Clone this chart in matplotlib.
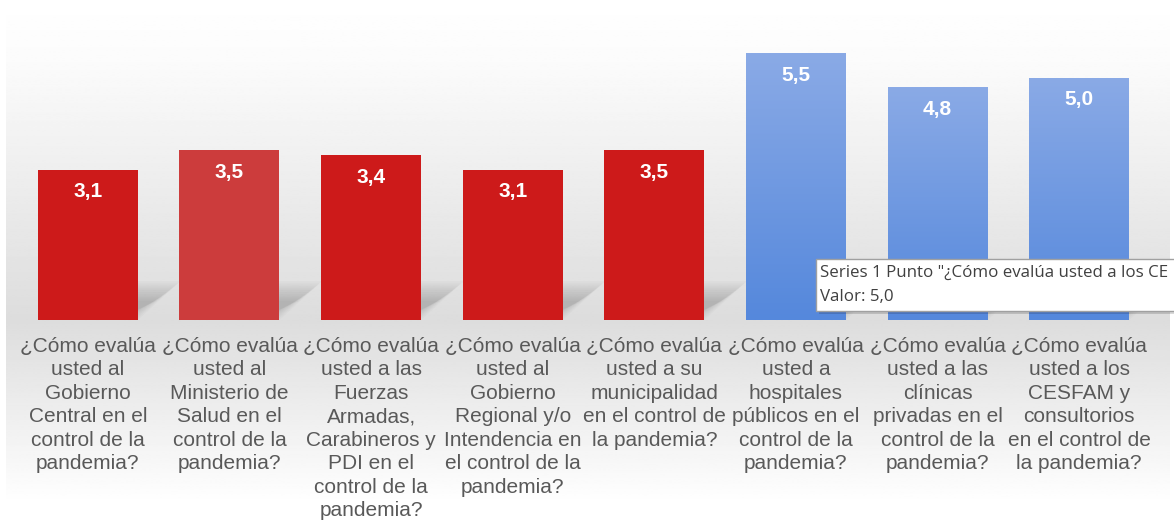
import numpy as np
import matplotlib.pyplot as plt
from matplotlib.colors import LinearSegmentedColormap
from matplotlib.patches import Polygon, Rectangle

plt.rcParams['font.family'] = ['Liberation Sans', 'DejaVu Sans']

# datos
preguntas = [
    "¿Cómo evalúa\nusted al\nGobierno\nCentral en el\ncontrol de la\npandemia?",
    "¿Cómo evalúa\nusted al\nMinisterio de\nSalud en el\ncontrol de la\npandemia?",
    "¿Cómo evalúa\nusted a las\nFuerzas\nArmadas,\nCarabineros y\nPDI en el\ncontrol de la\npandemia?",
    "¿Cómo evalúa\nusted al\nGobierno\nRegional y/o\nIntendencia en\nel control de la\npandemia?",
    "¿Cómo evalúa\nusted a su\nmunicipalidad\nen el control de\nla pandemia?",
    "¿Cómo evalúa\nusted a\nhospitales\npúblicos en el\ncontrol de la\npandemia?",
    "¿Cómo evalúa\nusted a las\nclínicas\nprivadas en el\ncontrol de la\npandemia?",
    "¿Cómo evalúa\nusted a los\nCESFAM y\nconsultorios\nen el control de\nla pandemia?",
]
valores = [3.1, 3.5, 3.4, 3.1, 3.5, 5.5, 4.8, 5.0]
etiquetas = ["3,1", "3,5", "3,4", "3,1", "3,5", "5,5", "4,8", "5,0"]
colores = ["#cd1a1a", "#cc3c3c", "#cd1a1a", "#cd1a1a", "#cd1a1a", "blue", "blue", "blue"]
tooltip = ['Series 1 Punto "¿Cómo evalúa usted a los CE', "Valor: 5,0"]

W, H = 1174, 529
fig = plt.figure(figsize=(W / 100, H / 100), dpi=100)

# fondo con degradado
bg = fig.add_axes([0, 0, 1, 1])
bg.set_xlim(0, W)
bg.set_ylim(H, 0)
bg.axis("off")
col = np.interp(np.linspace(8, 505, 300), [8, 60, 320, 505], [0.998, 0.985, 0.865, 1.0])
grad = np.tile(col[:, None], (1, 2))
bg.imshow(grad, cmap="gray", vmin=0, vmax=1, extent=[6, 1170, 505, 8],
          aspect="auto", interpolation="bilinear")

left, right, base, top = 17, 1150, 320, 29
ax = fig.add_axes([left / W, 1 - base / H, (right - left) / W, (base - top) / H])
ax.set_xlim(-0.5, 7.5)
ax.set_ylim(0, 6)
ax.axis("off")
ax.patch.set_alpha(0)

x = np.arange(len(valores))
ancho = 0.706

# sombras de las barras
for xi, v in zip(x, valores):
    for k in range(10):
        d = 0.018 * k
        sh = Polygon([[xi - ancho / 2 + d, 0], [xi + ancho / 2 - d, 0],
                      [xi + ancho / 2 + 0.3 - d, 0.8 - d * 2.5],
                      [xi - ancho / 2 + 0.3 + d, 0.8 - d * 2.5]],
                     closed=True, color="#505050", alpha=0.03, lw=0, zorder=1)
        ax.add_patch(sh)

barras = ax.bar(x, valores, width=ancho, color=[c if c != "blue" else "#7aa0e3" for c in colores],
                zorder=2, linewidth=0)

cmap_azul = LinearSegmentedColormap.from_list("azul", ["#5588dc", "#8aaae6"])
for b, c in zip(barras, colores):
    if c == "blue":
        x0, w, h = b.get_x(), b.get_width(), b.get_height()
        im = ax.imshow(np.linspace(0, 1, 100)[:, None], cmap=cmap_azul, origin="lower",
                       extent=[x0, x0 + w, 0, h], aspect="auto", zorder=3)
        im.set_clip_path(b)

for xi, v, t in zip(x, valores, etiquetas):
    ax.annotate(t, (xi, v), xytext=(0, -16), textcoords="offset points", ha="center",
                va="center", color="white", fontsize=15, fontweight="bold", zorder=4)

# etiquetas de categorias
for xi, p in zip(x, preguntas):
    ax.annotate(p, (xi, 0), xytext=(0, -12), textcoords="offset points", ha="center",
                va="top", color="#595959", fontsize=15, linespacing=1.3,
                annotation_clip=False)

# cuadro emergente
ov = fig.add_axes([0, 0, 1, 1])
ov.set_xlim(0, W)
ov.set_ylim(H, 0)
ov.axis("off")
ov.patch.set_alpha(0)
ov.add_patch(Rectangle((819, 262), 400, 52, facecolor="#00000026", edgecolor="none"))
ov.add_patch(Rectangle((815.5, 258.5), 400, 52, facecolor="white", edgecolor="#a0a0a0", lw=1))
for i, linea in enumerate(tooltip):
    ov.text(820, 273 + i * 24, linea, fontsize=12.2, color="#404040", va="center", ha="left",
            family=["Open Sans", "DejaVu Sans"])

fig.savefig("out.png", dpi=100, facecolor="white")
